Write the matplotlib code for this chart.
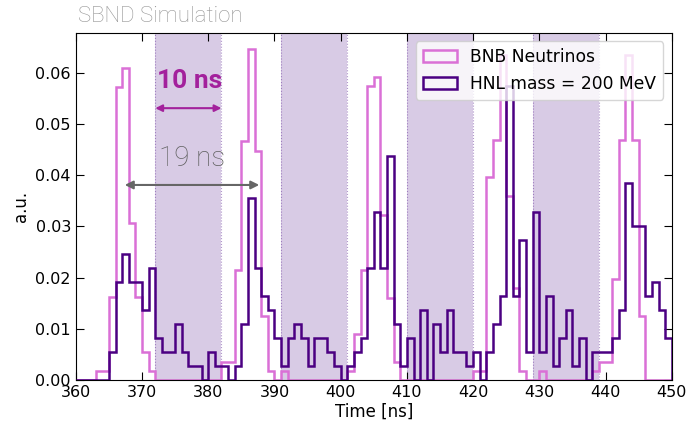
import numpy as np
import matplotlib
matplotlib.use("Agg")
import matplotlib.pyplot as plt

# 1 ns bins from 360 to 450 ns
bin_edges = np.arange(360, 451, 1)

# BNB neutrino timing (a.u.), one value per bin
bnb_values = [
    0, 0, 0, 0.0018, 0.0018, 0.0162, 0.0573, 0.0610, 0.0306, 0.0162,   # 360-369
    0.0055, 0.0018, 0, 0, 0, 0, 0, 0, 0, 0,                              # 370-379
    0, 0, 0.0036, 0.0036, 0.0215, 0.0467, 0.0646, 0.0448, 0.0125, 0.0018,  # 380-389
    0, 0.0018, 0, 0, 0, 0, 0, 0, 0, 0,                                   # 390-399
    0, 0.0018, 0.0090, 0.0215, 0.0574, 0.0591, 0.0323, 0.0161, 0.0036, 0,  # 400-409
    0, 0, 0, 0, 0, 0, 0, 0, 0, 0,                                        # 410-419
    0.0018, 0.0018, 0.0396, 0.0468, 0.0635, 0.0360, 0.0179, 0.0018, 0, 0,  # 420-429
    0.0018, 0, 0, 0, 0, 0, 0, 0, 0.0018, 0.0036,                         # 430-439
    0.0036, 0.0197, 0.0468, 0.0635, 0.0468, 0.0125, 0, 0, 0, 0,          # 440-449
]

# HNL (200 MeV) timing (a.u.)
hnl_values = [
    0, 0, 0, 0, 0, 0.0055, 0.0192, 0.0247, 0.0192, 0.0192,               # 360-369
    0.0137, 0.0219, 0.0082, 0.0055, 0.0055, 0.0110, 0.0055, 0.0027, 0.0027, 0,  # 370-379
    0.0055, 0.0027, 0.0027, 0, 0.0027, 0.0110, 0.0356, 0.0219, 0.0164, 0.0137,  # 380-389
    0.0082, 0.0027, 0.0082, 0.0110, 0.0082, 0.0027, 0.0082, 0.0082, 0.0055, 0.0027,  # 390-399
    0, 0.0027, 0.0055, 0.0082, 0.0219, 0.0329, 0.0219, 0.0438, 0.0110, 0.0027,  # 400-409
    0.0082, 0, 0.0137, 0, 0.0110, 0.0055, 0.0137, 0.0055, 0.0055, 0.0027,  # 410-419
    0.0055, 0, 0.0055, 0.0110, 0.0164, 0.0575, 0.0164, 0.0274, 0.0055, 0.0329,  # 420-429
    0.0055, 0.0164, 0.0027, 0.0082, 0.0137, 0.0027, 0.0082, 0, 0.0055, 0.0055,  # 430-439
    0.0055, 0.0082, 0.0137, 0.0384, 0.0301, 0.0301, 0.0164, 0.0192, 0.0137, 0.0082,  # 440-449
]

# gaps between beam buckets (10 ns wide, every 19 ns)
gap_starts = [372, 391, 410, 429]
gap_width = 10

bnb_color = "#da70d6"
hnl_color = "#4b0082"
gap_color = "#663399"
note_color = "#a3219c"


def main():
    fig = plt.figure(figsize=(6.89, 4.22), dpi=100)
    ax = fig.add_axes([0.110, 0.0995, 0.865, 0.8225])

    for start in gap_starts:
        ax.axvspan(start, start + gap_width, color=gap_color, alpha=0.25,
                   lw=0, zorder=0)
        for edge in (start, start + gap_width):
            ax.axvline(edge, color=gap_color, alpha=0.5, lw=0.8, ls=":",
                       zorder=0.5)

    centers = bin_edges[:-1] + 0.5
    ax.hist(centers, bins=bin_edges, weights=bnb_values, histtype="step",
            color=bnb_color, lw=1.8, label="BNB Neutrinos", zorder=2)
    ax.hist(centers, bins=bin_edges, weights=hnl_values, histtype="step",
            color=hnl_color, lw=1.8, label="HNL mass = 200 MeV", zorder=3)

    # bucket width and spacing
    ax.annotate("", xy=(372, 0.0531), xytext=(382, 0.0531),
                arrowprops=dict(arrowstyle="<|-|>", color=note_color, lw=1.5,
                                shrinkA=0, shrinkB=0, mutation_scale=10))
    ax.text(377.2, 0.0585, "10 ns", color=note_color, fontsize=19,
            fontweight="bold", family=["Roboto", "DejaVu Sans"],
            ha="center", va="center")
    ax.annotate("", xy=(367.4, 0.0381), xytext=(387.7, 0.0381),
                arrowprops=dict(arrowstyle="<|-|>", color="#666666", lw=1.5,
                                shrinkA=0, shrinkB=0, mutation_scale=12))
    ax.text(377.5, 0.0432, "19 ns", color="#606060", fontsize=20,
            fontweight="light", family=["Roboto", "DejaVu Sans"],
            ha="center", va="center")

    ax.set_xlim(360, 450)
    ax.set_ylim(0, 0.0678)
    ax.set_xticks(np.arange(360, 451, 10))
    ax.set_yticks(np.arange(0, 0.061, 0.01))
    ax.yaxis.set_major_formatter(plt.FormatStrFormatter("%.2f"))
    ax.tick_params(direction="in", top=True, right=True, length=6,
                   labelsize=11.5)
    ax.set_xlabel("Time [ns]", fontsize=12, labelpad=2)
    ax.set_ylabel("a.u.", fontsize=12)

    ax.legend(loc="upper right", fontsize=12.3, framealpha=0.8,
              handlelength=2.0, borderaxespad=0.5)

    fig.text(78 / 689, 1 - 17 / 422, "SBND Simulation", color="#959595",
             fontsize=16, fontweight="light", family=["Roboto", "DejaVu Sans"],
             ha="left", va="center")

    fig.savefig("out.png", dpi=100)
    plt.close(fig)


if __name__ == "__main__":
    main()
